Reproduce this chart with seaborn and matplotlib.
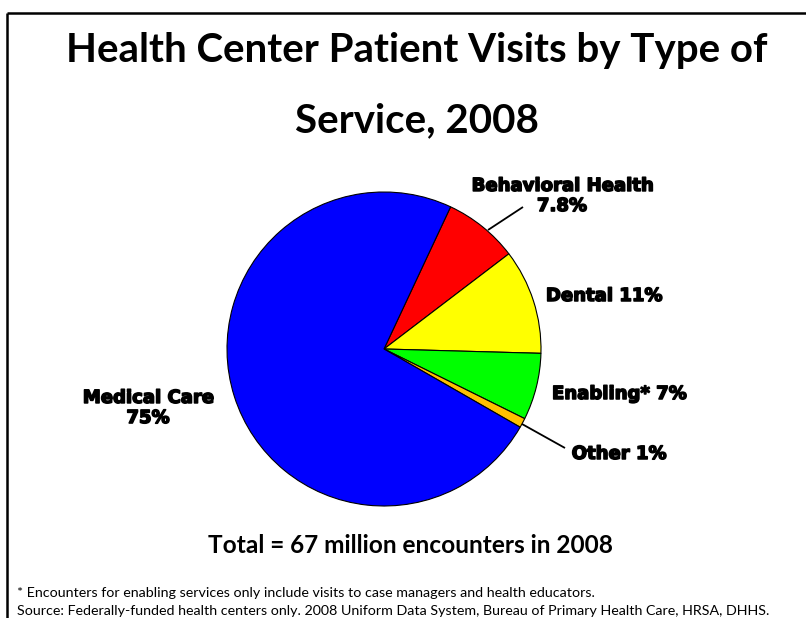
import matplotlib
matplotlib.use("Agg")
import matplotlib.pyplot as plt
import matplotlib.patheffects as pe
import seaborn as sns

sns.set_theme(style="white")
plt.rcParams["font.family"] = ["DejaVu Sans"]

# Visit shares by type of service (percent), clockwise from the top-right
services = ["Behavioral Health", "Dental", "Enabling*", "Other", "Medical Care"]
shares = [7.8, 11, 7, 1, 75]
share_labels = ["7.8%", "11%", "7%", "1%", "75%"]
slice_colors = ["#FF0000", "#FFFF00", "#00FF00", "#FFC000", "#0000FF"]

title_lines = ["Health Center Patient Visits by Type of", "Service, 2008"]
total_note = "Total = 67 million encounters in 2008"
footnotes = [
    "* Encounters for enabling services only include visits to case managers and health educators.",
    "Source: Federally-funded health centers only. 2008 Uniform Data System, Bureau of Primary Health Care, HRSA, DHHS.",
]

W, H = 806, 618
fig = plt.figure(figsize=(W / 100, H / 100), dpi=100)
fig.patch.set_facecolor("white")
ax = fig.add_axes([0, 0, 1, 1])
ax.set_axis_off()


def py(y):
    """Convert a top-down pixel row into the axes' upward y coordinate."""
    return H - y


cx, cy, r = 384, 349, 157
ax.pie(
    shares,
    colors=slice_colors,
    startangle=64.9,
    counterclock=False,
    center=(cx, py(cy)),
    radius=r,
    wedgeprops=dict(edgecolor="black", linewidth=0.8),
    frame=False,
)
ax.set_xlim(0, W)
ax.set_ylim(0, H)
ax.set_aspect("auto")

heavy = [pe.withStroke(linewidth=1.1, foreground="black")]
label_font = dict(fontsize=13, fontweight="heavy", color="black",
                  family=["DejaVu Sans"], linespacing=1.15, path_effects=heavy)

ax.text(562, py(196), f"{services[0]}\n{share_labels[0]}", ha="center", va="center", **label_font)
ax.text(604, py(296), f"{services[1]} {share_labels[1]}", ha="center", va="center", **label_font)
ax.text(619, py(394), f"{services[2]} {share_labels[2]}", ha="center", va="center", **label_font)
ax.text(619, py(454), f"{services[3]} {share_labels[3]}", ha="center", va="center", **label_font)
ax.text(148, py(408), f"{services[4]}\n{share_labels[4]}", ha="center", va="center", **label_font)

# Leader lines for the narrow slices
ax.plot([488, 523], [py(230), py(207)], color="black", lw=1.3, solid_capstyle="butt")
ax.plot([522, 565], [py(424), py(448)], color="black", lw=1.3, solid_capstyle="butt")

# Title and notes
title_font = dict(fontsize=29, fontweight="bold", family=["Lato", "DejaVu Sans"], color="black")
ax.text(417, py(62), title_lines[0], ha="center", va="baseline", **title_font)
ax.text(417, py(132), title_lines[1], ha="center", va="baseline", **title_font)

ax.text(411, py(553), total_note, ha="center", va="baseline",
        fontsize=17.6, fontweight="bold", family=["Lato", "DejaVu Sans"], color="black")

foot_font = dict(fontsize=10.3, family=["Lato", "DejaVu Sans"], color="black")
ax.text(17, py(597), footnotes[0], ha="left", va="baseline", **foot_font)
ax.text(17, py(615), footnotes[1], ha="left", va="baseline", **foot_font)

# Slide frame: top and left rules
ax.plot([7, W], [py(13), py(13)], color="black", lw=1.8, solid_capstyle="butt")
ax.plot([7, 7], [py(13), 0], color="black", lw=1.8, solid_capstyle="butt")

fig.savefig("out.png", dpi=100, facecolor="white")
